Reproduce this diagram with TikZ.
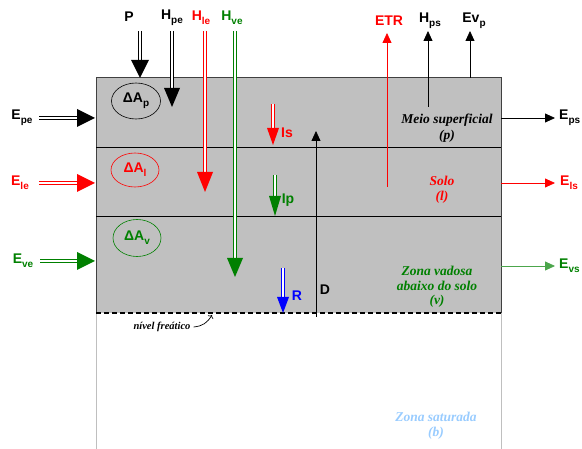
\documentclass[tikz,border=0pt]{standalone}
\usepackage{fontspec}
\setmainfont{Liberation Sans}
\newfontfamily\serifbi{Liberation Serif}
\usetikzlibrary{arrows.meta,shapes.geometric}
\definecolor{boxgray}{HTML}{C0C0C0}
\definecolor{dgreen}{HTML}{008000}
\definecolor{lgreen}{HTML}{4CA64C}
\definecolor{lblue}{HTML}{99CCFF}
\newcommand\lsub[1]{\raisebox{-0.28em}{\fontsize{10}{10}\selectfont #1}}
\newcommand\vhead[5]{\fill[#1] (#2-#5,#3) -- (#2+#5,#3) -- (#2,#4) -- cycle;}
\newcommand\hhead[5]{\fill[#1] (#3,#2-#5) -- (#3,#2+#5) -- (#4,#2) -- cycle;}
\begin{document}
\begin{tikzpicture}[x=1pt,y=-1pt,
  lab/.style={font=\fontsize{14}{14}\selectfont\bfseries, inner sep=0pt},
  zone/.style={font=\serifbi\fontsize{13.5}{13.5}\selectfont\bfseries\itshape, inner sep=0pt},
  dbl/.style={draw=#1, double=white, line width=1.1pt, double distance=1.9pt},
  thin/.style={draw=#1, line width=0.8pt, -{Triangle[length=10pt,width=9pt]}},
]
\useasboundingbox (0,0) rectangle (582,449);
% layers
\fill[boxgray] (96,78) rectangle (501,313);
\draw[black!75, line width=1pt] (96,313) -- (96,78) -- (501,78) -- (501,313);
\draw[black, line width=0.8pt] (96,147) -- (501,147);
\draw[black, line width=0.8pt] (96,216.5) -- (501,216.5);
\draw[black!25, line width=1pt] (96,313) -- (96,449);
\draw[black!25, line width=1pt] (501,313) -- (501,449);
% D arrow
\coordinate (Dbot) at (316,317);
\coordinate (Dtop) at (316,131);
\draw[thin=black] (Dbot) -- (Dtop);
\draw[black, line width=2pt, dash pattern=on 5pt off 3pt] (96,313) -- (501,313);
% ellipses
\node[draw=black, ellipse, line width=0.6pt, minimum width=49pt, minimum height=36pt, inner sep=0pt, lab] (dAp) at (136,101) {ΔA\lsub{p}};
\node[draw=red, ellipse, line width=0.6pt, minimum width=48pt, minimum height=34pt, inner sep=0pt, lab, text=red] (dAl) at (135,170) {ΔA\lsub{l}};
\node[draw=dgreen, ellipse, line width=0.6pt, minimum width=48pt, minimum height=37pt, inner sep=0pt, lab, text=dgreen] (dAv) at (137,238) {ΔA\lsub{v}};
% top labels
\node[lab] (P) at (129,17) {P};
\node[lab] (Hpe) at (172,18) {H\lsub{pe}};
\node[lab, text=red] (Hle) at (201,18) {H\lsub{le}};
\node[lab, text=dgreen] (Hve) at (232,18) {H\lsub{ve}};
\node[lab, text=red] (ETR) at (389,21) {ETR};
\node[lab] (Hps) at (430,21) {H\lsub{ps}};
\node[lab] (Evp) at (474,21) {Ev\lsub{p}};
% left labels
\node[lab] (Epe) at (22,118) {E\lsub{pe}};
\node[lab, text=red] (Ele) at (20,183) {E\lsub{le}};
\node[lab, text=dgreen] (Eve) at (23,261) {E\lsub{ve}};
% right labels
\node[lab, anchor=west] (Eps) at (559,118) {E\lsub{ps}};
\node[lab, anchor=west, text=red] (Els) at (560,183) {E\lsub{ls}};
\node[lab, anchor=west, text=dgreen] (Evs) at (559,266) {E\lsub{vs}};
% inner labels
\node[lab, text=red] (Is) at (287,133) {Is};
\node[lab, text=dgreen] (Ip) at (288,200) {Ip};
\node[lab, text=blue] (R) at (297,296) {R};
\node[lab] (D) at (325,290) {D};
% double arrows vertical
\draw[dbl=black] (140,31) -- (140,61); \vhead{black}{140}{60}{78}{9}
\draw[dbl=black] (172,31) -- (172,89); \vhead{black}{172}{88}{107}{8}
\draw[dbl=red] (205,31) -- (205,173); \vhead{red}{205}{172}{192}{8}
\draw[dbl=dgreen] (235,31) -- (235,259); \vhead{dgreen}{235}{258}{277}{8}
\draw[dbl=red] (273,104) -- (273,129); \vhead{red}{273}{128}{145}{6}
\draw[dbl=dgreen] (275,175) -- (275,197); \vhead{dgreen}{275}{196}{216}{6}
\draw[dbl=blue] (283,268) -- (283,298); \vhead{blue}{283}{297}{313}{6}
% double arrows horizontal
\draw[dbl=black] (39,118) -- (78,118); \hhead{black}{118}{77}{95}{9}
\draw[dbl=red] (39,183) -- (78,183); \hhead{red}{183}{77}{95}{9}
\draw[dbl=dgreen] (40,261) -- (78,261); \hhead{dgreen}{261}{77}{95}{9}
% thin arrows
\coordinate (etr0) at (387,187);
\coordinate (etr1) at (387,33);
\draw[thin=red] (etr0) -- (etr1);
\coordinate (hps0) at (428,107);
\coordinate (hps1) at (428,31);
\draw[thin=black] (hps0) -- (hps1);
\coordinate (evp0) at (470,78);
\coordinate (evp1) at (470,31);
\draw[thin=black] (evp0) -- (evp1);
\coordinate (eps0) at (501,118);
\coordinate (eps1) at (555,118);
\draw[thin=black] (eps0) -- (eps1);
\coordinate (els0) at (501,183);
\coordinate (els1) at (555,183);
\draw[thin=red] (els0) -- (els1);
\coordinate (evs0) at (501,266);
\coordinate (evs1) at (555,266);
\draw[thin=lgreen] (evs0) -- (evs1);
% zone texts
\node[zone, align=center] (zp) at (447,128) {Meio superficial\\[2pt](p)};
\node[zone, align=center, text=red] (zl) at (442,190) {Solo\\[2pt](l)};
\node[zone, align=center, text=dgreen] (zv) at (437,287) {Zona vadosa\\[1pt]abaixo do solo\\[1pt](v)};
\node[zone, align=center, text=lblue] (zb) at (436,426) {Zona saturada\\[2pt](b)};
% nivel freatico
\node[font=\serifbi\fontsize{10.5}{10.5}\selectfont\bfseries\itshape, inner sep=0pt] (nf) at (162,327) {nível freático};
\coordinate (nft) at (212,315);
\draw[black, line width=0.7pt, -{To[length=3pt]}] (nf.east) ++(3,0) .. controls (203,326) and (207,323) .. (nft);
\end{tikzpicture}
\end{document}
